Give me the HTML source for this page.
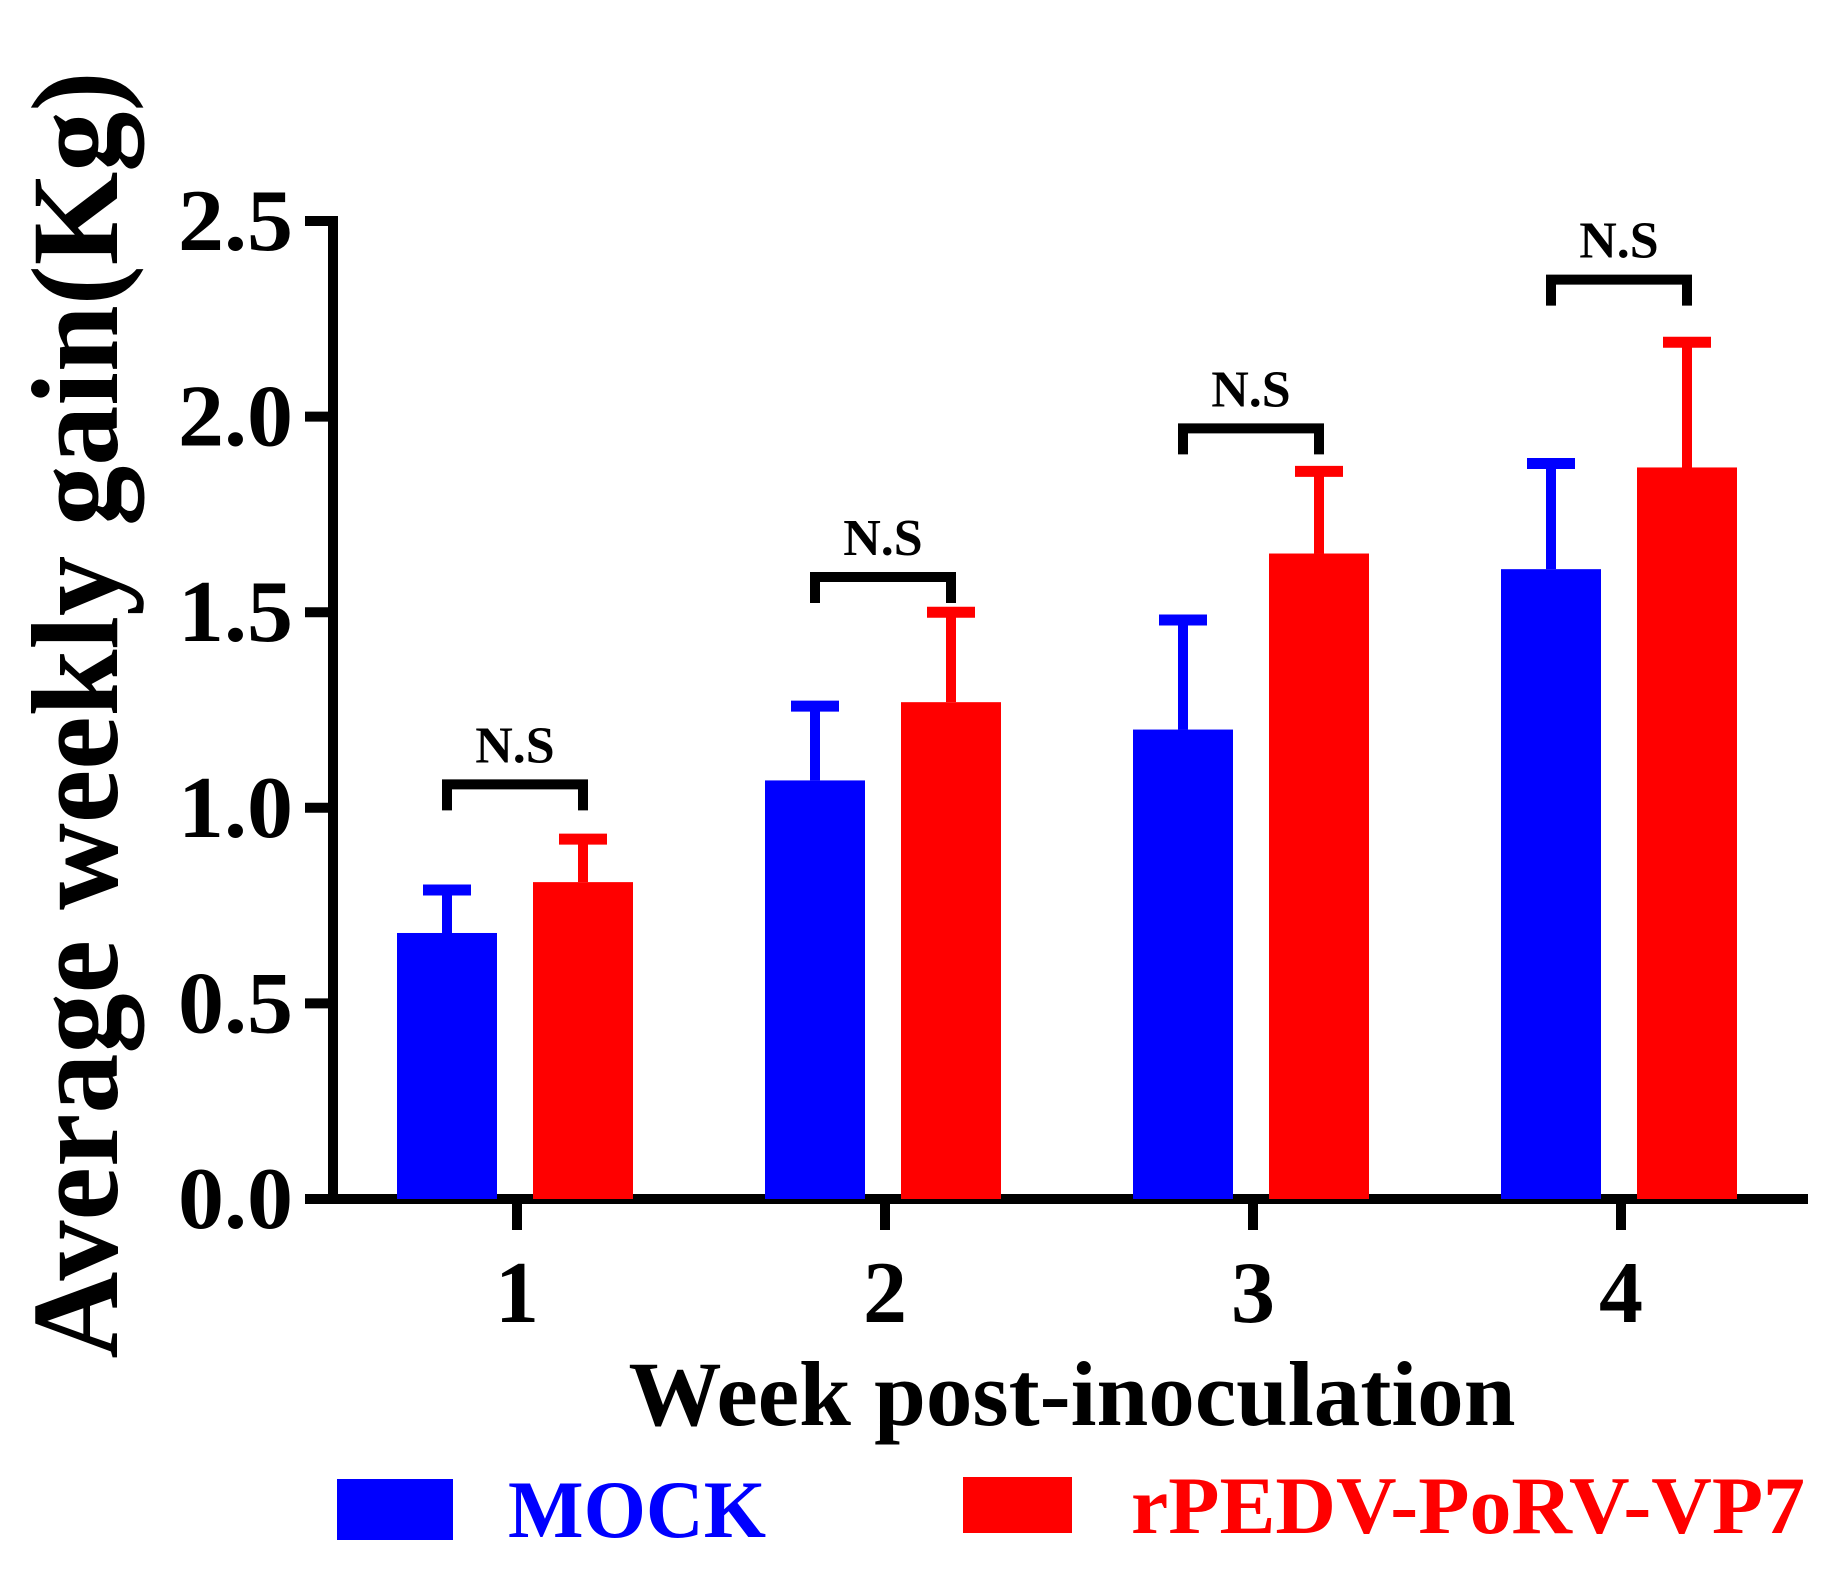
<!DOCTYPE html>
<html><head><meta charset="utf-8"><style>
html,body{margin:0;padding:0;background:#fff;}
svg{display:block;font-family:"Liberation Serif",serif;font-weight:bold;}
</style></head><body>
<svg id="chart" width="1843" height="1581" viewBox="0 0 1843 1581" xmlns="http://www.w3.org/2000/svg">
<g id="axes"></g>
<g id="bars"></g>
<g id="sig"></g>
<text transform="translate(117,715) rotate(-90)" text-anchor="middle" font-size="124" textLength="1287" lengthAdjust="spacingAndGlyphs">Average weekly gain(Kg)</text>
<text x="1072" y="1425" text-anchor="middle" font-size="92" textLength="887" lengthAdjust="spacingAndGlyphs">Week post-inoculation</text>
<g>
<rect x="337" y="1479" width="116" height="61" fill="#0000ff"/>
<text x="508" y="1537" font-size="82" fill="#0000ff" textLength="258" lengthAdjust="spacingAndGlyphs">MOCK</text>
<rect x="963" y="1477" width="109" height="56" fill="#ff0000"/>
<text x="1131" y="1533" font-size="82" fill="#ff0000" textLength="674" lengthAdjust="spacingAndGlyphs">rPEDV-PoRV-VP7</text>
</g>
</svg>
<script>
const categories = ["1","2","3","4"];
const mockValues = [0.68, 1.07, 1.20, 1.61];
const mockErrors = [0.11, 0.19, 0.28, 0.27];
const vp7Values = [0.81, 1.27, 1.65, 1.87];
const vp7Errors = [0.11, 0.23, 0.21, 0.32];
const sigLevels = [1.06, 1.59, 1.97, 2.35];
const sigLabels = ["N.S","N.S","N.S","N.S"];
const yTicks = [0, 0.5, 1.0, 1.5, 2.0, 2.5];
const yTickLabels = ["0.0","0.5","1.0","1.5","2.0","2.5"];

const NS = "http://www.w3.org/2000/svg";
const x0 = 333, x1 = 1808, yBase = 1199, yTop = 221;
function yScale(v){ return yBase - (yBase - yTop) * v / 2.5; }
function xScale(i){ return 517 + i * 368; }
function mk(tag, attrs, parent){ const e = document.createElementNS(NS, tag); for (const k in attrs) e.setAttribute(k, attrs[k]); parent.appendChild(e); return e; }

const axes = document.getElementById('axes');
const bars = document.getElementById('bars');
const sig = document.getElementById('sig');

let yl = mk('line', {x1:x0, y1:yScale(2.5)-5, x2:x0, y2:yBase+5, stroke:'#000', 'stroke-width':10}, axes);


let xl = mk('line', {x1:x0-5, y1:yBase, x2:x1, y2:yBase, stroke:'#000', 'stroke-width':10}, axes);



yTicks.forEach((v, i) => {
  const t = mk('line', {x1:305, y1:yScale(v), x2:x0, y2:yScale(v), stroke:'#000', 'stroke-width':10}, axes);
  
  
  const lb = mk('text', {x:293, y:yScale(v)+29, 'text-anchor':'end', 'font-size':88, textLength:115, lengthAdjust:'spacingAndGlyphs'}, axes);
  lb.textContent = yTickLabels[i];
  
  
});

categories.forEach((c, i) => {
  const cx = xScale(i);
  const t = mk('line', {x1:cx, y1:yBase, x2:cx, y2:1230, stroke:'#000', 'stroke-width':10}, axes);
  
  
  const lb = mk('text', {x:cx, y:1322, 'text-anchor':'middle', 'font-size':88}, axes);
  lb.textContent = c;
  
  

  const series = [[mockValues[i], mockErrors[i], '#0000ff', cx - 70, 'bar-mock'], [vp7Values[i], vp7Errors[i], '#ff0000', cx + 66, 'bar-vp7']];
  series.forEach(s => {
    const [v, e, col, bc, nm] = s;
    const top = yScale(v), et = yScale(v + e);
    const b = mk('rect', {x:bc-50, y:top, width:100, height:yBase-top, fill:col}, bars);
    
    
    const st = mk('line', {x1:bc, y1:top, x2:bc, y2:et, stroke:col, 'stroke-width':10}, bars);
    
    
    const cp = mk('line', {x1:bc-24, y1:et, x2:bc+24, y2:et, stroke:col, 'stroke-width':11}, bars);
    
    
  });

  const ys = yScale(sigLevels[i]);
  const l = cx - 70, r = cx + 66;
  const br = mk('path', {d:`M${l} ${ys+26} V${ys} H${r} V${ys+26}`, fill:'none', stroke:'#000', 'stroke-width':10}, sig);
  
  
  const st = mk('text', {x:(l+r)/2, y:ys-22, 'text-anchor':'middle', 'font-size':52, 'font-weight':'bold'}, sig);
  st.textContent = sigLabels[i];
  
  
});
</script>
</body></html>
